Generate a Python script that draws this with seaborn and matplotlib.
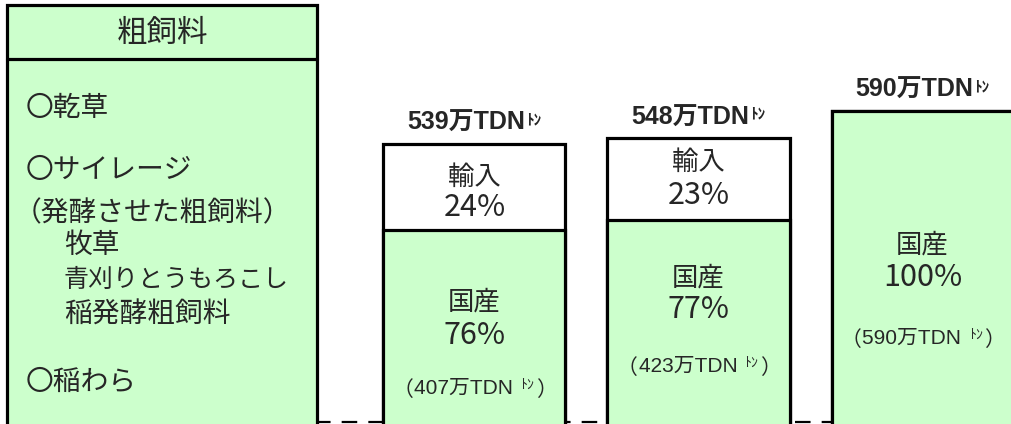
import seaborn as sns
import matplotlib.pyplot as plt
import pandas as pd
from matplotlib.patches import Rectangle
from matplotlib.transforms import blended_transform_factory
from matplotlib.offsetbox import TextArea, HPacker, AnnotationBbox

# supply of roughage, 万TDNトン
cases = ["A", "B", "C"]
totals = [539, 548, 590]
domestic = [407, 423, 590]
import_pct = [24, 23, 0]
domestic_pct = [76, 77, 100]

header = "粗飼料"
items = ["〇乾草", "〇サイレージ", "（発酵させた粗飼料）", "牧草", "青刈りとうもろこし", "稲発酵粗飼料", "〇稲わら"]

# layout (pixels from top/left)
W, H = 1011, 424
item_x = [26, 26, 14, 64, 64, 64, 26]
item_y = [108, 170, 213, 245, 280, 315, 382]
item_fs = [20, 20, 20, 20, 18, 20, 20]
imp_y = [177, 162]
imp_pct_y = [208, 195]
dom_y = [302, 278, 245]
dom_pct_y = [335, 310, 278]
paren_y = [390, 368, 340]

GREEN = "#CCFFCC"

sns.set_style("white")
plt.rcParams["font.family"] = ["Noto Sans CJK JP", "DejaVu Sans"]
LATIN = ["Liberation Sans", "Noto Sans CJK JP"]

fig = plt.figure(figsize=(W / 100, H / 100), dpi=100)
ax = fig.add_axes([0, 0, 1, 1])

def fx(px):
    return px / W

def fy(py):
    return 1 - py / H

df = pd.DataFrame({"case": cases, "total": totals, "domestic": domestic})

# dashed base line (behind bars)
bt = blended_transform_factory(ax.transData, fig.transFigure)
ax.plot([-0.71, 1.6], [fy(422), fy(422)], color="black", lw=1.6,
        ls=(0, (7, 5)), transform=bt, zorder=0)

sns.barplot(data=df, x="case", y="total", color="white", edgecolor="black",
            linewidth=2.3, width=0.8125, saturation=1, errorbar=None, ax=ax, zorder=2)
sns.barplot(data=df, x="case", y="domestic", color=GREEN, edgecolor="black",
            linewidth=2.3, width=0.8125, saturation=1, errorbar=None, ax=ax, zorder=3)

ax.set_xlim(-2.118, 2.395)
ax.set_ylim(108.7, 760.6)
ax.axis("off")

def packed(parts, align="top"):
    boxes = [TextArea(t, textprops=p) for t, p in parts]
    return HPacker(children=boxes, align=align, pad=0, sep=1)

# totals above bars
for i, t in enumerate(totals):
    box = packed([(f"{t}万TDN", dict(fontsize=18, fontweight="bold", family=LATIN)),
                  ("ﾄﾝ", dict(fontsize=11, fontweight="bold"))])
    ab = AnnotationBbox(box, (i, t), xybox=(0, 15), boxcoords="offset points",
                        frameon=False, box_alignment=(0.5, 0.5), zorder=5)
    ax.add_artist(ab)

# labels inside bars
for i in range(len(cases)):
    if import_pct[i] > 0:
        ax.text(i, fy(imp_y[i]), "輸入", transform=bt, ha="center", va="center", fontsize=19, zorder=5)
        ax.text(i, fy(imp_pct_y[i]), f"{import_pct[i]}%", transform=bt, ha="center", va="center",
                fontsize=22, zorder=5)
    ax.text(i, fy(dom_y[i]), "国産", transform=bt, ha="center", va="center", fontsize=19, zorder=5)
    ax.text(i, fy(dom_pct_y[i]), f"{domestic_pct[i]}%", transform=bt, ha="center", va="center",
            fontsize=22, zorder=5)
    box = packed([("（", dict(fontsize=15)),
                  (f"{domestic[i]}万TDN ", dict(fontsize=15, family=LATIN)),
                  ("ﾄﾝ", dict(fontsize=10)),
                  ("）", dict(fontsize=15))])
    ab = AnnotationBbox(box, (i, fy(paren_y[i])), xycoords=bt, frameon=False,
                        box_alignment=(0.5, 0.5), zorder=5)
    ax.add_artist(ab)

# left box listing roughage kinds
fig.add_artist(Rectangle((fx(6.5), fy(440)), fx(317 - 6.5), fy(4.5) - fy(440),
                         transform=fig.transFigure, facecolor=GREEN, edgecolor="black", lw=2.3))
fig.add_artist(plt.Line2D([fx(6.5), fx(317)], [fy(58.5), fy(58.5)],
                          transform=fig.transFigure, color="black", lw=2.3))
fig.text(fx(162), fy(33), header, ha="center", va="center", fontsize=22)
for t, x, y, fs in zip(items, item_x, item_y, item_fs):
    fig.text(fx(x), fy(y), t, ha="left", va="center", fontsize=fs)

plt.savefig("out.png", dpi=100)
